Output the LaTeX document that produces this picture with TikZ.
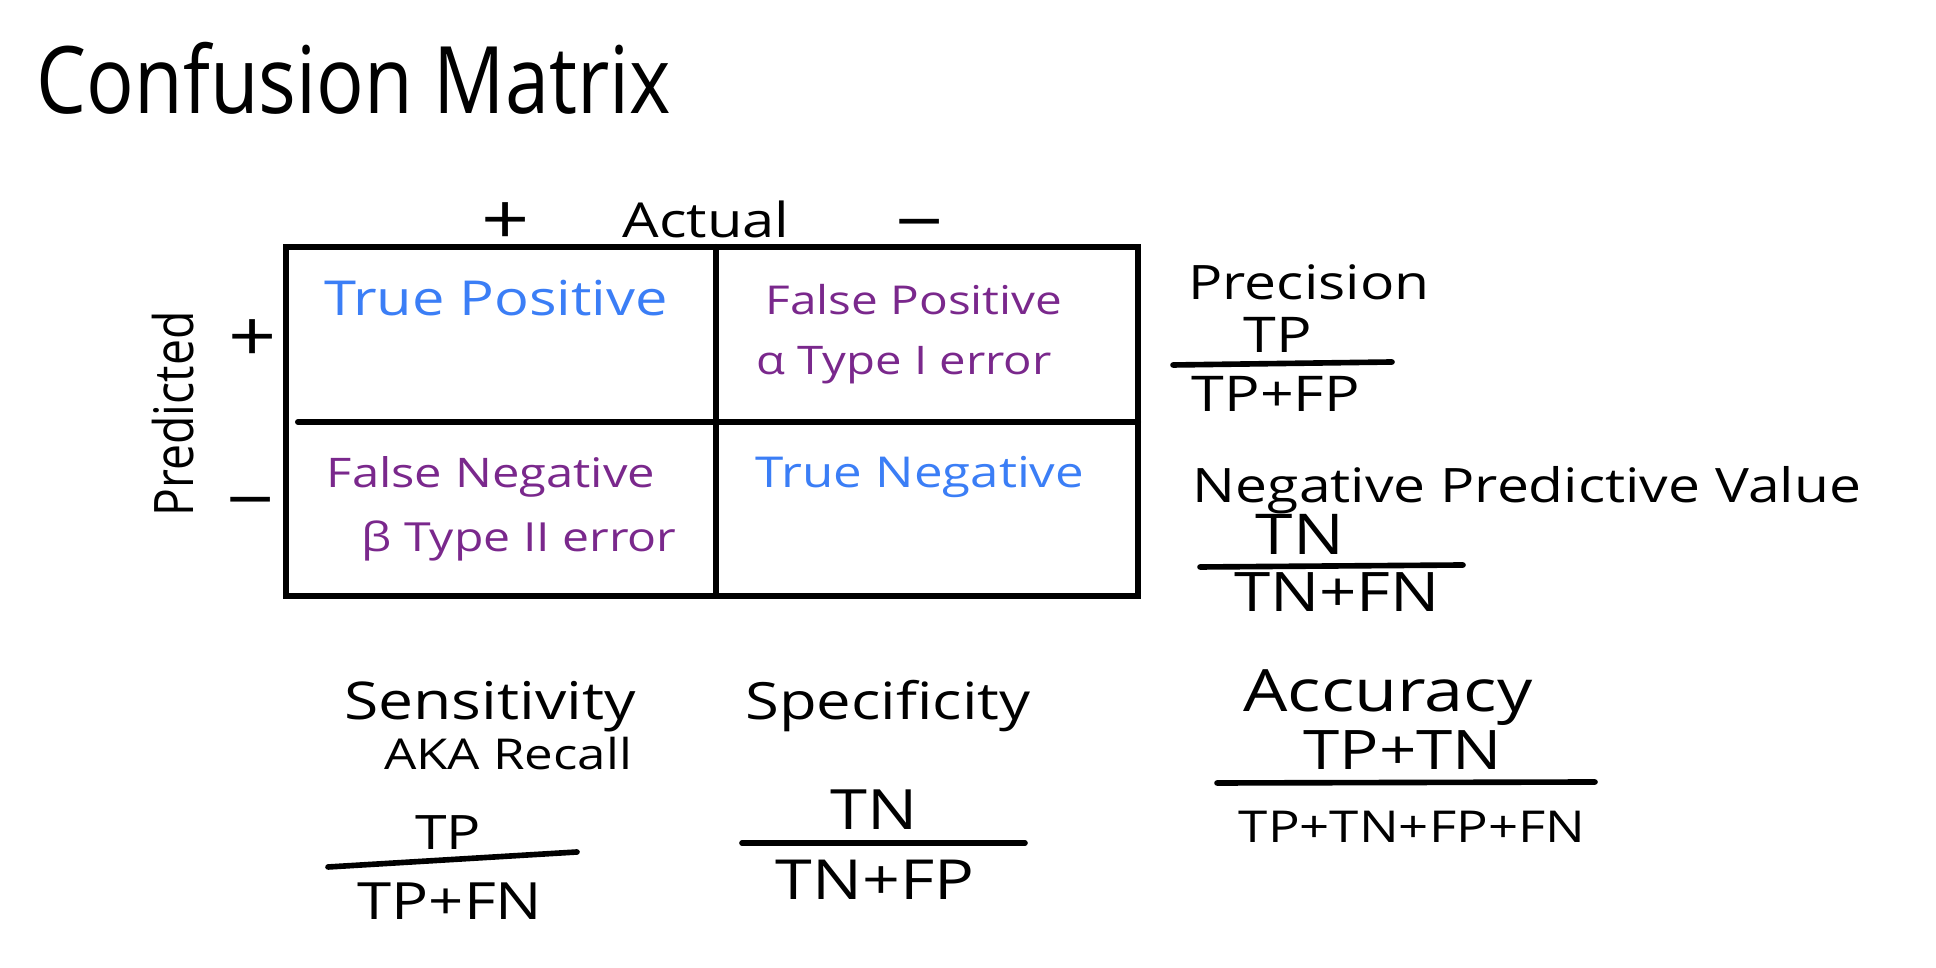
\documentclass[tikz,border=0pt]{standalone}
\usepackage{fontspec}
\newfontfamily\hand[FakeStretch=1.2]{Open Sans}
\newfontfamily\handtall[FakeStretch=0.85]{Open Sans}
\definecolor{tblue}{RGB}{59,126,246}
\definecolor{tpurple}{RGB}{122,40,140}
\newcommand{\fs}[1]{\fontsize{#1}{#1}\selectfont}
\tikzset{
  txt/.style={font=\hand, inner sep=0pt, anchor=base, text=black},
  sign/.style={font=\hand\fs{20}, inner sep=0pt, anchor=center},
  grid/.style={line width=1.7pt, line cap=round},
  fracline/.style={line width=1.6pt, line cap=round},
}
\begin{document}
\begin{tikzpicture}[x=0.01cm,y=-0.01cm]
\useasboundingbox (0,0) rectangle (1936,968);
% title
\node[txt, font=\handtall\fs{26.5}] (title) at (354,114) {Confusion Matrix};
% axis labels
\node[sign] (pplus) at (506,224) {+};
\node[txt, font=\hand\fs{13.7}] (actual) at (706,238) {Actual};
\node[sign] (pminus) at (920,233) {−};
\node[font=\handtall\fs{15.5}, inner sep=0pt, rotate=90] (pred) at (173,414) {Predicted};
\node[sign] (lplus) at (253,341) {+};
\node[sign] (lminus) at (251,511) {−};
% matrix
\draw[grid] (286,247) rectangle (1138,596);
\draw[grid] (716,247) -- (716,596);
\draw[grid] (298,422) -- (1138,422);
% cells
\node[txt, font=\hand\fs{13.7}, text=tblue] (tp) at (496,316) {True Positive};
\node[txt, font=\hand\fs{11.3}, text=tpurple] (fp) at (914,315) {False Positive};
\node[txt, font=\hand\fs{11.2}, text=tpurple] (t1) at (904,375) {α Type I error};
\node[txt, font=\hand\fs{11.6}, text=tpurple] (fn) at (491,488) {False Negative};
\node[txt, font=\hand\fs{11.4}, text=tpurple] (t2) at (519,552) {β Type II error};
\node[txt, font=\hand\fs{12.1}, text=tblue] (tn) at (920,488) {True Negative};
% precision
\node[txt, font=\hand\fs{13.5}] (prec) at (1309,300) {Precision};
\node[txt, font=\hand\fs{14}] (precn) at (1278,353) {TP};
\draw[fracline] (1173,365) -- (1392,362);
\node[txt, font=\hand\fs{14}] (precd) at (1276,412) {TP+FP};
% NPV
\node[txt, font=\hand\fs{13.5}] (npv) at (1527,503) {Negative Predictive Value};
\node[txt, font=\hand\fs{16}] (npvn) at (1300,555) {TN};
\draw[fracline] (1200,567) -- (1463,565);
\node[txt, font=\hand\fs{15.5}] (npvd) at (1337,612) {TN+FN};
% accuracy
\node[txt, font=\hand\fs{16.6}] (acc) at (1388,712) {Accuracy};
\node[txt, font=\hand\fs{15.5}] (accn) at (1403,770) {TP+TN};
\draw[fracline] (1217,783) -- (1595,782);
\node[txt, font=\hand\fs{12.5}] (accd) at (1412,843) {TP+TN+FP+FN};
% sensitivity
\node[txt, font=\hand\fs{14.8}] (sens) at (490,720) {Sensitivity};
\node[txt, font=\hand\fs{12.1}] (aka) at (508,770) {AKA Recall};
\node[txt, font=\hand\fs{13.5}] (sensn) at (448,850) {TP};
\draw[fracline] (328,867) -- (577,852);
\node[txt, font=\hand\fs{14.6}] (sensd) at (450,920) {TP+FN};
% specificity
\node[txt, font=\hand\fs{14.6}] (spec) at (888,720) {Specificity};
\node[txt, font=\hand\fs{15.8}] (specn) at (874,830) {TN};
\draw[fracline] (742,843) -- (1025,843);
\node[txt, font=\hand\fs{15.7}] (specd) at (875,900) {TN+FP};
\end{tikzpicture}
\end{document}
